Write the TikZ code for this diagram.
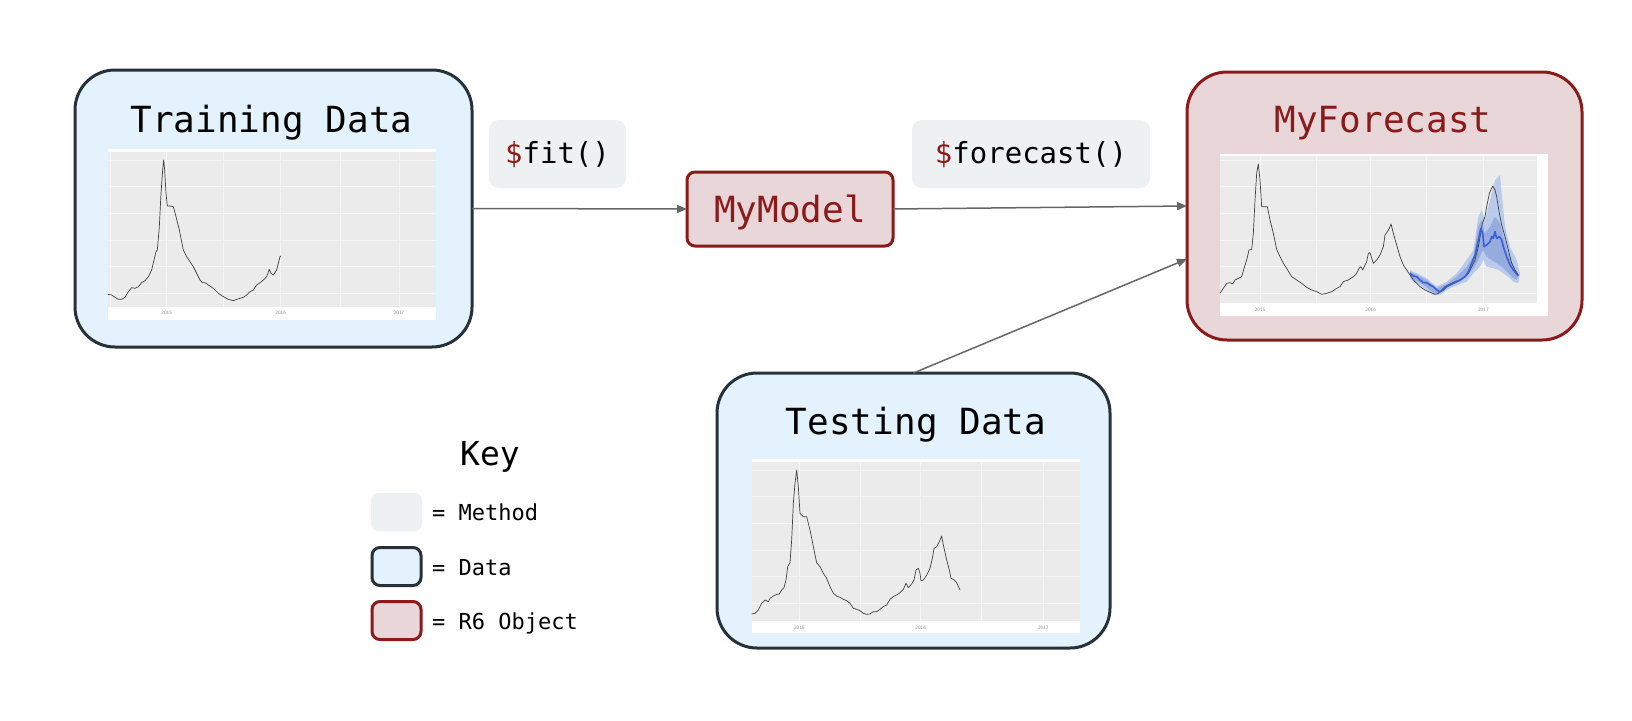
\documentclass[tikz,border=0pt]{standalone}
\usepackage{fontspec}
\newfontfamily\mono{DejaVu Sans Mono}
\usetikzlibrary{arrows.meta,calc}
\definecolor{slate}{HTML}{263238}
\definecolor{dred}{HTML}{8B1A1A}
\definecolor{lblue}{HTML}{E3F2FC}
\definecolor{lred}{HTML}{E8D6D8}
\definecolor{lgray}{HTML}{EEF1F2}
\definecolor{arrgray}{HTML}{666666}
\definecolor{panel}{HTML}{EBEBEB}
\definecolor{gridc}{HTML}{F6F6F6}
\definecolor{fcblue}{HTML}{3A5FD9}
\definecolor{bandout}{HTML}{A9C0EC}
\definecolor{bandin}{HTML}{7F98D8}
\tikzset{
  databox/.style={draw=slate, fill=lblue, line width=3pt, rounded corners=40pt, inner sep=0pt, outer sep=0pt},
  objbox/.style={draw=dred, fill=lred, line width=3pt, inner sep=0pt, outer sep=0pt},
  methbox/.style={fill=lgray, rounded corners=10pt, inner sep=0pt, outer sep=0pt},
  arr/.style={draw=arrgray, line width=1.5pt, -{Triangle[length=10pt,width=8pt]}},
  title/.style={font=\mono\fontsize{36}{40}\selectfont, anchor=base, inner sep=0pt},
  methtxt/.style={font=\mono\fontsize{29}{32}\selectfont, anchor=base, inner sep=0pt},
  keytxt/.style={font=\mono\fontsize{22}{26}\selectfont, anchor=base west, inner sep=0pt},
  yl/.style={font=\sffamily\fontsize{5}{6}\selectfont, text=black!45, inner sep=0pt},
  curve/.style={draw=black!75, line width=0.7pt, line join=round},
  gmaj/.style={draw=gridc, line width=0.8pt},
  gmin/.style={draw=gridc, line width=0.4pt},
}
\begin{document}
\begin{tikzpicture}[x=1pt,y=-1pt]
\useasboundingbox (0,0) rectangle (1632,720);
\fill[white] (0,0) rectangle (1632,720);

% ---------- main boxes ----------
\node[databox, minimum width=397pt, minimum height=277pt] (train) at (273.5,208.5) {};
\node[objbox, rounded corners=40pt, minimum width=395pt, minimum height=268pt] (forecast) at (1384.5,206) {};
\node[databox, minimum width=393pt, minimum height=275pt] (testing) at (913.5,510.5) {};
\node[objbox, rounded corners=8pt, minimum width=206pt, minimum height=74pt] (mymodel) at (790,209) {};
\node[methbox, minimum width=137pt, minimum height=68pt] (fitbox) at (557.5,154) {};
\node[methbox, minimum width=238pt, minimum height=68pt] (fcbox) at (1031,154) {};

% ---------- titles ----------
\node[title] (traint) at (271.5,132) {Training Data};
\node[title, text=dred] (fct) at (1383,132) {MyForecast};
\node[title] (testt) at (916,434) {Testing Data};
\node[title, text=dred] (mmt) at (790,222) {MyModel};
\node[methtxt] (fitt) at (557.5,163) {\textcolor{dred}{\$}fit()};
\node[methtxt] (fct2) at (1031,163) {\textcolor{dred}{\$}forecast()};

% ---------- connectors ----------
\coordinate (fin) at (1187,259);
\draw[arr] (train.east) -- (mymodel.west);
\draw[arr] (mymodel.east) -- (forecast.west);
\draw[arr] (testing.north) -- (fin);

% ---------- training plot ----------
\begin{scope}[shift={(70,60)},scale=1/3]
\fill[white] (113,268) rectangle (1097,780);
\fill[panel] (113,275) rectangle (1097,742);
\foreach \y in {300,380,460,540,620,700} \draw[gmin] (113,\y) -- (1097,\y);
\foreach \x in {120,461,810} \draw[gmin] (\x,275) -- (\x,742);
\foreach \x in {290,632,987} \draw[gmaj] (\x,275) -- (\x,742);
\node[yl] (tr15) at (290,760) {2015};
\node[yl] (tr16) at (632,760) {2016};
\node[yl] (tr17) at (987,760) {2017};
\draw[curve] plot coordinates {(113,703) (125,705) (135,712) (145,718) (155,718) (165,712) (175,695) (185,683) (195,685) (205,680) (215,668) (225,662) (235,650) (245,630) (252,600) (258,575) (262,570) (268,500) (273,400) (278,330) (281,300) (284,330) (288,400) (292,438) (300,438) (310,440) (318,470) (328,510) (340,570) (350,590) (360,605) (370,620) (380,640) (390,660) (397,668) (405,668) (415,675) (430,685) (445,700) (460,710) (475,718) (490,722) (500,718) (510,715) (520,712) (530,705) (540,695) (550,690) (560,675) (570,668) (580,660) (590,650) (598,628) (603,640) (610,645) (620,630) (625,610) (630,590) (633,588)};
\end{scope}

% ---------- testing plot ----------
\begin{scope}[shift={(710,360)},scale=1/3]
\fill[white] (125,298) rectangle (1110,820);
\fill[panel] (125,305) rectangle (1110,782);
\foreach \y in {330,410,490,570,650,730} \draw[gmin] (125,\y) -- (1110,\y);
\foreach \x in {450,815} \draw[gmin] (\x,305) -- (\x,782);
\foreach \x in {268,632,1000} \draw[gmaj] (\x,305) -- (\x,782);
\node[yl] (te15) at (268,803) {2015};
\node[yl] (te16) at (632,803) {2016};
\node[yl] (te17) at (1000,803) {2017};
\draw[curve] plot coordinates {(125,762) (135,760) (145,750) (155,730) (165,720) (175,725) (180,715) (190,708) (200,703) (207,703) (215,690) (222,683) (228,660) (233,620) (240,608) (245,540) (250,430) (255,370) (260,330) (265,380) (270,460) (280,470) (290,470) (300,510) (310,560) (320,608) (330,620) (340,640) (350,655) (360,680) (370,700) (380,708) (390,712) (400,718) (410,722) (420,730) (430,745) (440,748) (450,752) (460,760) (470,763) (480,762) (490,755) (500,755) (510,748) (520,740) (530,735) (540,718) (550,710) (560,705) (570,698) (580,688) (588,670) (595,683) (605,672) (612,660) (618,630) (625,625) (630,640) (633,662) (640,660) (650,645) (660,625) (668,590) (672,565) (680,560) (688,545) (695,528) (700,555) (710,600) (718,630) (723,655) (730,658) (740,668) (750,690)};
\end{scope}

% ---------- forecast plot ----------
\begin{scope}[shift={(1180,60)},scale=1/3]
\fill[white] (120,282) rectangle (1103,768);
\fill[panel] (120,288) rectangle (1070,730);
\foreach \y in {300,380,460,540,620,700} \draw[gmin] (120,\y) -- (1070,\y);
\foreach \x in {410,740} \draw[gmin] (\x,288) -- (\x,730);
\foreach \x in {240,572,910} \draw[gmaj] (\x,288) -- (\x,730);
\node[yl] (fc15) at (240,750) {2015};
\node[yl] (fc16) at (572,750) {2016};
\node[yl] (fc17) at (910,750) {2017};
\fill[bandout, fill opacity=0.75] plot coordinates {(690,630) (710,640) (740,655) (770,680) (800,665) (830,640) (860,600) (880,570) (895,470) (905,450) (915,480) (925,440) (935,400) (945,360) (960,345) (965,400) (975,500) (990,560) (1010,600) (1020,640) (1015,670) (1000,665) (985,650) (970,640) (955,630) (940,625) (920,620) (910,600) (900,620) (880,640) (860,665) (840,672) (820,680) (800,690) (780,705) (760,705) (740,690) (720,675) (700,665) (690,655)} -- cycle;
\fill[bandin, fill opacity=0.6] plot coordinates {(690,635) (710,645) (740,660) (770,685) (800,672) (830,650) (860,620) (880,590) (895,500) (905,480) (915,520) (930,500) (945,470) (960,490) (970,530) (985,580) (1000,615) (1015,645) (1010,660) (995,650) (980,635) (965,620) (950,610) (935,600) (920,590) (908,570) (895,600) (880,625) (860,650) (840,665) (820,672) (800,682) (780,700) (760,698) (740,682) (720,668) (700,658) (690,648)} -- cycle;
\draw[curve] plot coordinates {(120,700) (130,685) (140,670) (150,668) (158,672) (165,660) (175,655) (185,650) (192,625) (200,600) (207,570) (215,568) (220,520) (225,420) (230,340) (235,312) (240,360) (245,440) (255,440) (262,440) (270,480) (280,520) (290,568) (300,590) (310,610) (320,625) (335,650) (350,660) (365,670) (380,682) (395,690) (410,695) (425,703) (440,700) (455,695) (470,685) (480,680) (490,665) (505,660) (520,650) (530,640) (537,625) (543,620) (548,630) (560,605) (565,580) (570,578) (575,595) (580,610) (590,600) (600,585) (610,560) (615,525) (622,515) (628,505) (633,492) (640,520) (650,555) (660,590) (670,615) (680,630) (690,645) (700,660) (710,670) (720,680) (735,690) (750,697) (765,703) (775,700) (785,690) (795,680) (810,672) (825,665) (840,660) (855,650) (865,640) (875,620) (885,600) (895,560) (902,520) (907,490) (915,470) (920,440) (928,400) (938,378) (945,390) (950,410) (958,460) (965,495) (975,530) (985,570) (995,610) (1005,630) (1015,645)};
\draw[draw=fcblue, line width=1.6pt, line join=round] plot coordinates {(690,640) (700,648) (710,650) (720,660) (730,668) (740,668) (750,675) (760,680) (770,690) (780,695) (790,690) (800,680) (810,675) (825,668) (840,660) (855,650) (865,635) (875,610) (885,585) (895,540) (903,505) (908,520) (912,560) (920,555) (930,545) (935,530) (940,535) (945,515) (950,535) (958,530) (965,540) (970,560) (980,590) (990,615) (1000,630) (1015,648)};
\end{scope}

% ---------- key ----------
\node[font=\mono\fontsize{33}{36}\selectfont, anchor=base, inner sep=0pt] (keyt) at (490,465) {Key};
\node[methbox, rounded corners=7pt, minimum width=51pt, minimum height=38pt] (kmeth) at (396.5,512) {};
\node[databox, rounded corners=8pt, minimum width=49pt, minimum height=38pt] (kdata) at (396.5,566.5) {};
\node[objbox, rounded corners=8pt, minimum width=49pt, minimum height=38pt] (kobj) at (396.5,620.5) {};
\node[keytxt] (kmt) at (432,520) {= Method};
\node[keytxt] (kdt) at (432,575) {= Data};
\node[keytxt] (kot) at (432,629) {= R6 Object};
\end{tikzpicture}
\end{document}
